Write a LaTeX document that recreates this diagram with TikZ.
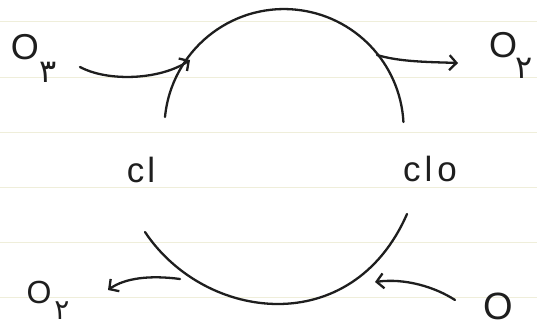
\documentclass[tikz,border=0pt]{standalone}
\usepackage{fontspec}
\setmainfont{Liberation Sans}
\newfontfamily\fa[Script=Arabic]{DejaVu Sans}
\usetikzlibrary{arrows.meta}
\definecolor{ink}{HTML}{1E1E1E}
\definecolor{rule}{HTML}{EFEEDA}
\tikzset{
  pen/.style={draw=ink, line width=2.3pt, line cap=round, line join=round},
  tipped/.style={pen, -{Straight Barb[length=7pt,width=15pt,line width=2.3pt]}},
  big/.style={inner sep=0pt, text=ink, font=\fontsize{36}{36}\selectfont},
  sub/.style={inner sep=0pt, text=ink, font=\fa\fontsize{32}{32}\selectfont},
  lbl/.style={inner sep=0pt, text=ink, font=\fontsize{35}{35}\selectfont, anchor=base},
  ruled/.style={draw=rule, line width=1pt}
}
\begin{document}
\begin{tikzpicture}[x=1pt,y=-1pt]
\useasboundingbox[fill=white] (0,0) rectangle (537,328);
% faint ruled lines of the paper
\foreach \yy in {22,78,133,188,243,297}
  \draw[ruled] (0,\yy) -- (537,\yy);

% species labels
\node[lbl] (cl) at (141,183) {c\kern3pt l};
\node[lbl] (clo) at (430,182) {c\kern4pt l\kern5pt o};

\node[big] (o3in) at (25,47) {O};
\node[sub] (o3insub) at (48,72) {۳};
\node[big] (o2top) at (503,45) {O};
\node[sub] (o2topsub) at (524,68) {۲};
\node[big, font=\fontsize{32}{32}\selectfont] (o2bot) at (39,292) {O};
\node[sub, font=\fa\fontsize{28}{28}\selectfont] (o2botsub) at (62,311) {۲};
\node[big, font=\fontsize{38}{38}\selectfont] (oin) at (498,306) {O};

% arc end points near the labels
\coordinate (tl) at (165,117);
\coordinate (tr) at (404,122);
\coordinate (bl) at (145,232);
\coordinate (br) at (407,214);
\coordinate (tin) at (190,60);
\coordinate (tout) at (377,55);
\coordinate (bout) at (180,279);
\coordinate (bin) at (375,282);
\coordinate (o3tail) at (80,67);
\coordinate (o2head) at (458,63);
\coordinate (o2bhead) at (108,290);
\coordinate (otail) at (455,300);

% cycle arcs
\draw[pen] (tl) arc[start angle=185.6, end angle=356.8, radius=119.6];
\draw[pen] (bl) .. controls (205,322) and (352,340) .. (br);

% reactant/product arrows
\draw[tipped] (o3tail) .. controls (108,82) and (160,80) .. (tin);
\draw[tipped] (tout) .. controls (400,62) and (430,62) .. (o2head);
\draw[tipped] (bout) .. controls (150,275) and (125,278) .. (o2bhead);
\draw[tipped] (otail) .. controls (435,287) and (405,278) .. (bin);
\end{tikzpicture}
\end{document}
